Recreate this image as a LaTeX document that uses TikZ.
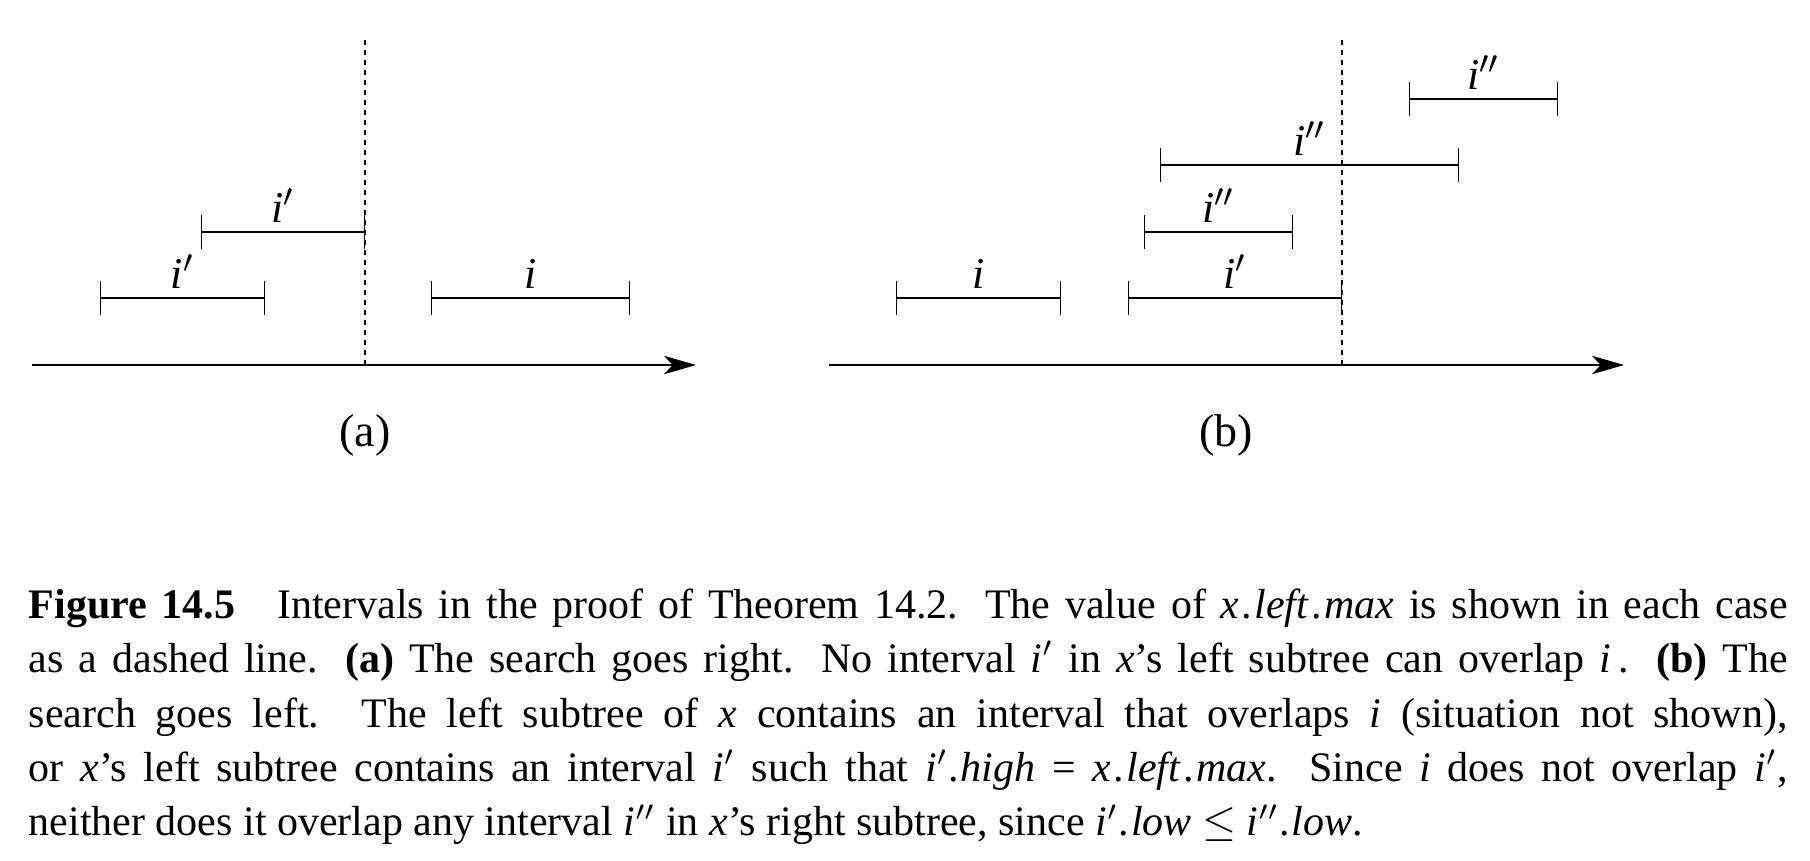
\documentclass[tikz,border=0pt]{standalone}
\usepackage{fontspec}
\setmainfont{Liberation Serif}
\usetikzlibrary{arrows.meta}

\begin{document}
\begin{tikzpicture}[x=0.25pt,y=-0.25pt]
                \tikzset{AxisStyle/.style={line width=0.5pt, -{Stealth[length=8pt, width=4.6pt, inset=2.2pt]}}}
                \tikzset{IntervalStyle/.style={line width=0.5pt, {Bar[width=8.5pt, line width=0.35pt]}-{Bar[width=8.5pt, line width=0.35pt]}}}
                \tikzset{MaxStyle/.style={line width=0.4pt, dash pattern=on 1.25pt off 1.25pt}}
                \tikzset{LabelStyle/.style={midway, anchor=base, yshift=2.4pt, inner sep=0pt, font=\fontsize{11pt}{13pt}\selectfont\itshape}}
                \tikzset{PartStyle/.style={font=\fontsize{11.5pt}{14pt}\selectfont}}
                \tikzset{CaptionStyle/.style={anchor=north west, inner sep=0pt, text width=439.75pt, align=justify, font=\fontsize{10.5pt}{13.6pt}\selectfont}}

                \useasboundingbox (0,0) rectangle (1810,860);

                \coordinate (a-from) at (32,365);
                \coordinate (a-to) at (696,365);
                \coordinate (a-max) at (365,40);
                \coordinate (a-foot) at (365,365);
                \draw[MaxStyle] (a-max) -- (a-foot);
                \draw[AxisStyle] (a-from) -- (a-to);

                \coordinate (a-ip1-low) at (100,298);
                \coordinate (a-ip1-high) at (265,298);
                \draw[IntervalStyle] (a-ip1-low) -- node[LabelStyle] (a-ip1) {i$'$} (a-ip1-high);

                \coordinate (a-ip2-low) at (201,232);
                \coordinate (a-ip2-high) at (365,232);
                \draw[IntervalStyle] (a-ip2-low) -- node[LabelStyle] (a-ip2) {i$'$} (a-ip2-high);

                \coordinate (a-i-low) at (431,298);
                \coordinate (a-i-high) at (630,298);
                \draw[IntervalStyle] (a-i-low) -- node[LabelStyle] (a-i) {i} (a-i-high);

                \node[PartStyle] (a-part) at (365,435) {(a)};



                \coordinate (b-from) at (829,365);
                \coordinate (b-to) at (1624,365);
                \coordinate (b-max) at (1342,40);
                \coordinate (b-foot) at (1342,365);
                \draw[MaxStyle] (b-max) -- (b-foot);
                \draw[AxisStyle] (b-from) -- (b-to);

                \coordinate (b-i-low) at (896,298);
                \coordinate (b-i-high) at (1061,298);
                \draw[IntervalStyle] (b-i-low) -- node[LabelStyle] (b-i) {i} (b-i-high);

                \coordinate (b-ip-low) at (1128,298);
                \coordinate (b-ip-high) at (1342,298);
                \draw[IntervalStyle] (b-ip-low) -- node[LabelStyle] (b-ip) {i$'$} (b-ip-high);

                \coordinate (b-ipp1-low) at (1144,232);
                \coordinate (b-ipp1-high) at (1293,232);
                \draw[IntervalStyle] (b-ipp1-low) -- node[LabelStyle] (b-ipp1) {i$''$} (b-ipp1-high);

                \coordinate (b-ipp2-low) at (1160,165);
                \coordinate (b-ipp2-high) at (1459,165);
                \draw[IntervalStyle] (b-ipp2-low) -- node[LabelStyle] (b-ipp2) {i$''$} (b-ipp2-high);

                \coordinate (b-ipp3-low) at (1409,99);
                \coordinate (b-ipp3-high) at (1558,99);
                \draw[IntervalStyle] (b-ipp3-low) -- node[LabelStyle] (b-ipp3) {i$''$} (b-ipp3-high);

                \node[PartStyle] (b-part) at (1226,435) {(b)};



                \node[CaptionStyle] (caption) at (28,588) {\textbf{Figure 14.5}\quad Intervals in the proof of Theorem 14.2. The value of \textit{x}\kern0.6pt.\kern0.6pt\textit{left}\kern0.6pt.\kern0.6pt\textit{max} is shown in each case\linebreak
                as a dashed line. \textbf{(a)} The search goes right. No interval \textit{i}$'$ in \textit{x}'s left subtree can overlap \textit{i}\,. \textbf{(b)} The\linebreak
                search goes left. The left subtree of \textit{x} contains an interval that overlaps \textit{i} (situation not shown),\linebreak
                or \textit{x}'s left subtree contains an interval \textit{i}$'$ such that \textit{i}$'$.\kern0.6pt\textit{high} = \textit{x}\kern0.6pt.\kern0.6pt\textit{left}\kern0.6pt.\kern0.6pt\textit{max}. Since \textit{i} does not overlap \textit{i}$'$,\linebreak
                neither does it overlap any interval \textit{i}$''$ in \textit{x}'s right subtree, since \textit{i}$'$.\kern0.6pt\textit{low} $\le$ \textit{i}$''$.\kern0.6pt\textit{low}.};

\end{tikzpicture}
\end{document}
